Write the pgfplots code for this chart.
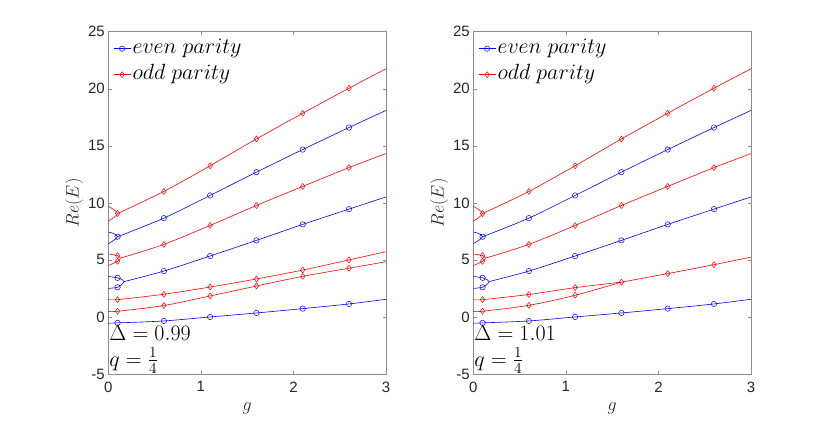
\RequirePackage{fix-cm}
\documentclass[border=0pt]{standalone}
\usepackage{fontspec}
\setmainfont{Liberation Sans}
\usepackage{pgfplots}
\pgfplotsset{compat=1.18}

\definecolor{axgray}{gray}{0.55}
\definecolor{txtgray}{gray}{0.15}

\pgfplotsset{
  myaxis/.style={
    scale only axis, width=277.7pt, height=342.3pt,
    anchor=south west,
    xmin=0, xmax=3, ymin=-5, ymax=25,
    xtick={0,1,2,3}, ytick={-5,0,5,10,15,20,25},
    tick align=inside, major tick length=3.5pt,
    axis line style={axgray, line width=0.5pt},
    tick style={axgray, line width=0.5pt},
    ticklabel style={font=\fontsize{15}{18}\selectfont, text=txtgray},
    /pgf/number format/assume math mode=true,
    xticklabel style={yshift=-4pt},
    clip mode=individual,
    legend style={at={(axis description cs:0,1)}, anchor=north west,
      xshift=5pt, yshift=-7pt, draw=none, fill=none, inner sep=0pt, outer sep=0pt,
      font=\fontsize{22}{26}\selectfont, row sep=6pt, column sep=1.7pt,
      nodes={inner sep=0pt, text height=15pt, text depth=5pt}},
    legend cell align=left,
    legend image code/.code={\draw[mark repeat=2,mark phase=2] plot coordinates {(0pt,0pt)(8.5pt,0pt)(17pt,0pt)};},
  },
  evenline/.style={blue, line width=0.6pt, smooth, no markers, forget plot},
  oddline/.style={red, line width=0.6pt, smooth, no markers, forget plot},
  evenmark/.style={blue, only marks, mark=o, mark size=2.7pt, mark options={line width=0.5pt}, forget plot},
  oddmark/.style={red, only marks, mark=diamond, mark size=3pt, mark options={line width=0.5pt}, forget plot},
}

\newcommand{\legendstuff}{%
  \addlegendimage{blue, line width=0.6pt, mark=o, mark size=2.7pt, mark options={line width=0.5pt}}
  \addlegendentry{$even\ parity$}
  \addlegendimage{red, line width=0.6pt, mark=diamond, mark size=3pt, mark options={line width=0.5pt}}
  \addlegendentry{$odd\ parity$}
}

\newcommand{\axislabels}{%
  \node[anchor=base, inner sep=0pt, text=txtgray, font=\fontsize{18}{21}\selectfont] at (axis description cs:0.5,-0.108) {$g$};
  \node[anchor=center, rotate=90, inner sep=0pt, text=txtgray, font=\fontsize{18}{21}\selectfont] at (axis description cs:-0.1235,0.5) {$Re(E)$};
}

% curves common to both panels
\newcommand{\commoncurves}{%
  % lowest even level
  \addplot[evenline] coordinates {(0,-0.55)(0.1,-0.52)(0.6,-0.35)(1.1,0.0)(1.6,0.35)(2.1,0.73)(2.6,1.14)(3,1.55)};
  \addplot[evenmark] coordinates {(0.1,-0.52)(0.6,-0.35)(1.1,0.0)(1.6,0.35)(2.1,0.73)(2.6,1.14)};
  % even pair near 3
  \addplot[evenline] coordinates {(0,3.55)(0.1,3.43)(0.15,3.27)(0.17,3.1)(0.15,2.88)(0.1,2.6)(0,2.5)};
  \addplot[evenline] coordinates {(0.17,3.1)(0.6,4.02)(1.1,5.34)(1.6,6.71)(2.1,8.11)(2.6,9.45)(3,10.52)};
  \addplot[evenmark] coordinates {(0.1,3.43)(0.1,2.6)(0.6,4.02)(1.1,5.34)(1.6,6.71)(2.1,8.11)(2.6,9.45)};
  % odd pair near 5
  \addplot[oddline] coordinates {(0,5.52)(0.1,5.38)(0.13,5.15)(0.1,4.88)(0,4.5)};
  \addplot[oddline] coordinates {(0.13,5.15)(0.6,6.36)(1.1,8.02)(1.6,9.77)(2.1,11.44)(2.6,13.09)(3,14.32)};
  \addplot[oddmark] coordinates {(0.1,5.38)(0.1,4.88)(0.6,6.36)(1.1,8.02)(1.6,9.77)(2.1,11.44)(2.6,13.09)};
  % even pair near 7
  \addplot[evenline] coordinates {(0,7.45)(0.06,7.3)(0.1,7.03)(0.06,6.72)(0,6.42)};
  \addplot[evenline] coordinates {(0.1,7.03)(0.6,8.66)(1.1,10.65)(1.6,12.69)(2.1,14.67)(2.6,16.6)(3,18.1)};
  \addplot[evenmark] coordinates {(0.1,7.03)(0.6,8.66)(1.1,10.65)(1.6,12.69)(2.1,14.67)(2.6,16.6)};
  % odd pair near 9
  \addplot[oddline] coordinates {(0,9.7)(0.06,9.4)(0.1,9.06)(0.06,8.72)(0,8.4)};
  \addplot[oddline] coordinates {(0.1,9.06)(0.6,11.0)(1.1,13.25)(1.6,15.6)(2.1,17.85)(2.6,20.05)(3,21.75)};
  \addplot[oddmark] coordinates {(0.1,9.06)(0.6,11.0)(1.1,13.25)(1.6,15.6)(2.1,17.85)(2.6,20.05)};
}

\begin{document}
\begin{tikzpicture}
\useasboundingbox (0pt,0pt) rectangle (830pt,421pt);

% ---------- left panel: Delta = 0.99 ----------
\begin{axis}[myaxis, at={(108.3pt,47pt)}]
  \legendstuff
  \commoncurves
  \addplot[oddline] coordinates {(0,0.5)(0.1,0.5)(0.6,1.0)(1.1,1.84)(1.6,2.71)(2.1,3.56)(2.6,4.27)(3,4.84)};
  \addplot[oddmark] coordinates {(0.1,0.5)(0.6,1.0)(1.1,1.84)(1.6,2.71)(2.1,3.56)(2.6,4.27)};
  \addplot[oddline] coordinates {(0,1.52)(0.1,1.52)(0.6,1.99)(1.1,2.62)(1.6,3.33)(2.1,4.11)(2.6,5.0)(3,5.72)};
  \addplot[oddmark] coordinates {(0.1,1.52)(0.6,1.99)(1.1,2.62)(1.6,3.33)(2.1,4.11)(2.6,5.0)};
  \axislabels
  \node[anchor=base west, inner sep=0pt, font=\fontsize{22}{26}\selectfont] at (axis cs:0.01,-2.08) {$\Delta = 0.99$};
  \node[anchor=base west, inner sep=0pt, font=\fontsize{22}{26}\selectfont] at (axis cs:0.01,-4.3) {$q=\frac{1}{4}$};
\end{axis}

% ---------- right panel: Delta = 1.01 ----------
\begin{axis}[myaxis, at={(473.3pt,47pt)}]
  \legendstuff
  \commoncurves
  \addplot[oddline] coordinates {(0,0.5)(0.1,0.5)(0.6,1.02)(1.1,1.9)(1.6,3.05)};
  \addplot[oddline] coordinates {(0,1.52)(0.1,1.52)(0.6,1.97)(1.1,2.57)(1.6,3.05)};
  \addplot[oddline] coordinates {(1.6,3.05)(2.1,3.8)(2.6,4.58)(3,5.25)};
  \addplot[oddmark] coordinates {(0.1,0.5)(0.6,1.02)(1.1,1.9)(0.1,1.52)(0.6,1.97)(1.1,2.57)(1.6,3.05)(2.1,3.8)(2.6,4.58)};
  \axislabels
  \node[anchor=base west, inner sep=0pt, font=\fontsize{22}{26}\selectfont] at (axis cs:0.01,-2.08) {$\Delta = 1.01$};
  \node[anchor=base west, inner sep=0pt, font=\fontsize{22}{26}\selectfont] at (axis cs:0.01,-4.3) {$q=\frac{1}{4}$};
\end{axis}
\end{tikzpicture}
\end{document}
